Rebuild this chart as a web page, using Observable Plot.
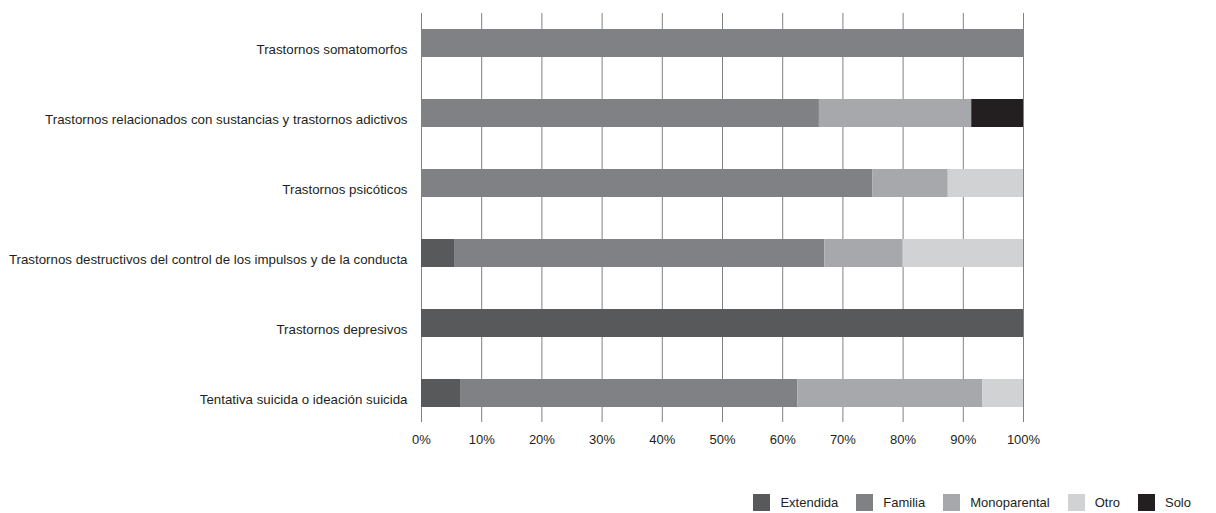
<!DOCTYPE html>
<html>
<head>
<meta charset="utf-8">
<script src="https://cdn.jsdelivr.net/npm/d3@7"></script>
<script src="https://cdn.jsdelivr.net/npm/@observablehq/plot@0.6"></script>
<style>
  html, body { margin: 0; padding: 0; background: #fff; }
  body { width: 1216px; height: 513px; overflow: hidden; font-family: "Liberation Sans", sans-serif; }
  #legend { width: 1216px; box-sizing: border-box; padding-right: 25px; margin-top: 34px; }
  #legend .lg-swatches { justify-content: flex-end; margin: 0 !important; min-height: 0 !important; font: 13px "Liberation Sans", sans-serif !important; color: #231f20; }
  #legend .lg-swatch { margin-right: 18px !important; margin-left: 0 !important; }
  #legend .lg-swatch:last-child { margin-right: 0 !important; }
  #legend .lg-swatch > svg { margin-right: 10px !important; }
</style>
</head>
<body>
<div id="chart"></div>
<div id="legend"></div>
<script>
const categories = [
  "Trastornos somatomorfos",
  "Trastornos relacionados con sustancias y trastornos adictivos",
  "Trastornos psicóticos",
  "Trastornos destructivos del control de los impulsos y de la conducta",
  "Trastornos depresivos",
  "Tentativa suicida o ideación suicida"
];
const series = ["Extendida", "Familia", "Monoparental", "Otro", "Solo"];
const colors = ["#58595b", "#808184", "#a7a8ab", "#d1d2d4", "#231f20"];

const extendida    = [0, 0, 0, 5.6, 100, 6.6];
const familia      = [100, 66.1, 75, 61.4, 0, 55.9];
const monoparental = [0, 25.3, 12.5, 13.0, 0, 30.7];
const otro         = [0, 0, 12.5, 20.0, 0, 6.8];
const solo         = [0, 8.6, 0, 0, 0, 0];

const xTicks = [0, 10, 20, 30, 40, 50, 60, 70, 80, 90, 100];

const valuesBySeries = [extendida, familia, monoparental, otro, solo];
const data = [];
categories.forEach((c, i) => {
  series.forEach((s, j) => {
    data.push({category: c, series: s, value: valuesBySeries[j][i]});
  });
});

const chart = Plot.plot({
  width: 1216,
  height: 460,
  marginLeft: 421,
  marginRight: 193,
  marginTop: 13,
  marginBottom: 38,
  style: {fontFamily: "'Liberation Sans', sans-serif", fontSize: "13px", color: "#231f20", background: "#fff"},
  x: {domain: [0, 100], ticks: xTicks, tickFormat: d => d + "%"},
  y: {domain: categories, paddingInner: 0.605, paddingOuter: 0.215},
  color: {domain: series, range: colors},
  marks: [
    Plot.gridX(xTicks, {stroke: "#808184", strokeOpacity: 1, strokeWidth: 1}),
    Plot.barX(data, Plot.stackX({x: "value", y: "category", fill: "series", order: series})),
    Plot.axisX(xTicks, {tickSize: 0, tickPadding: 12, tickFormat: d => d + "%", label: null, fill: "#231f20"}),
    Plot.axisY({tickSize: 0, tickPadding: 14, dy: 6, fontSize: 13.3, label: null, fill: "#231f20"})
  ]
});
document.getElementById("chart").appendChild(chart);

const legend = Plot.legend({
  color: {type: "ordinal", domain: series, range: colors},
  swatchSize: 17,
  className: "lg"
});
document.getElementById("legend").appendChild(legend);
</script>
</body>
</html>
